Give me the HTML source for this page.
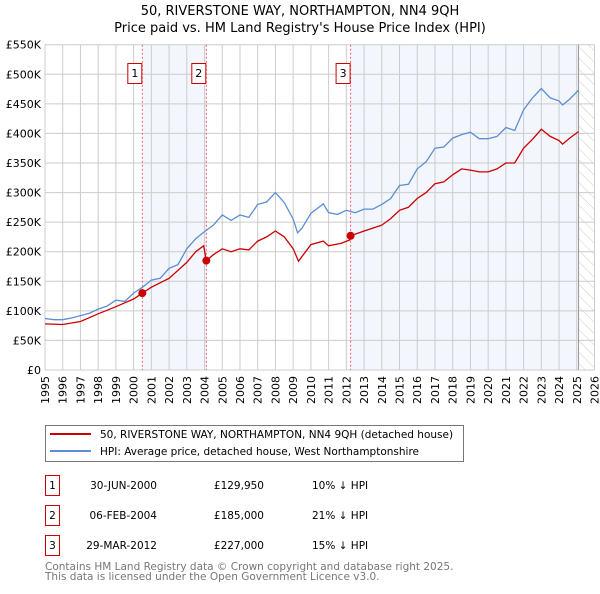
<!DOCTYPE html>
<html><head><meta charset="utf-8"><style>
body{margin:0;background:#fff;font-family:"DejaVu Sans","Liberation Sans",sans-serif}
svg text{font-family:"DejaVu Sans","Liberation Sans",sans-serif}
</style></head><body>
<svg width="600" height="590" viewBox="0 0 600 590">
<defs><pattern id="hatch" width="8" height="8" patternUnits="userSpaceOnUse" patternTransform="rotate(-45)"><line x1="0" y1="0" x2="0" y2="8" stroke="#ccc" stroke-width="1"/></pattern></defs>
<text x="300" y="15" font-size="13" text-anchor="middle">50, RIVERSTONE WAY, NORTHAMPTON, NN4 9QH</text>
<text x="300" y="32" font-size="13" text-anchor="middle">Price paid vs. HM Land Registry's House Price Index (HPI)</text>
<g id="plot"></g>
<g>
<rect x="45.5" y="425.5" width="418" height="36" fill="#fff" stroke="#777"/>
<line x1="50" y1="434" x2="91" y2="434" stroke="#cc0000" stroke-width="2"/>
<text x="100" y="438" font-size="10.5">50, RIVERSTONE WAY, NORTHAMPTON, NN4 9QH (detached house)</text>
<line x1="50" y1="451" x2="91" y2="451" stroke="#5b8fd1" stroke-width="2"/>
<text x="100" y="455" font-size="10.5">HPI: Average price, detached house, West Northamptonshire</text>
</g>
<g font-size="10.5">
<rect x="45.5" y="475.5" width="14" height="20" fill="#fff" stroke="#cc0000"/><text x="52.5" y="489" text-anchor="middle">1</text>
<text x="157" y="489" text-anchor="end">30-JUN-2000</text><text x="264" y="489" text-anchor="end">£129,950</text><text x="312" y="489">10% ↓ HPI</text>
<rect x="45.5" y="505.5" width="14" height="20" fill="#fff" stroke="#cc0000"/><text x="52.5" y="519" text-anchor="middle">2</text>
<text x="157" y="519" text-anchor="end">06-FEB-2004</text><text x="264" y="519" text-anchor="end">£185,000</text><text x="312" y="519">21% ↓ HPI</text>
<rect x="45.5" y="535.5" width="14" height="20" fill="#fff" stroke="#cc0000"/><text x="52.5" y="549" text-anchor="middle">3</text>
<text x="157" y="549" text-anchor="end">29-MAR-2012</text><text x="264" y="549" text-anchor="end">£227,000</text><text x="312" y="549">15% ↓ HPI</text>
</g>
<text x="45" y="570" font-size="10.5" fill="#777">Contains HM Land Registry data © Crown copyright and database right 2025.</text>
<text x="45" y="580" font-size="10.5" fill="#777">This data is licensed under the Open Government Licence v3.0.</text>
</svg>
<script>
const hpiYears=[1995,1995.5,1996,1996.5,1997,1997.5,1998,1998.5,1999,1999.5,2000,2000.5,2001,2001.5,2002,2002.5,2003,2003.5,2004,2004.5,2005,2005.5,2006,2006.5,2007,2007.5,2008,2008.5,2009,2009.25,2009.5,2010,2010.7,2011,2011.5,2012,2012.5,2013,2013.5,2014,2014.5,2015,2015.5,2016,2016.5,2017,2017.5,2018,2018.5,2019,2019.5,2020,2020.5,2021,2021.5,2022,2022.5,2023,2023.5,2024,2024.2,2024.6,2025.1];
const hpiValues=[87,85,85,88,92,96,103,108,118,116,130,140,152,155,172,178,205,222,234,245,262,253,262,258,280,284,300,283,255,232,240,265,281,266,263,270,266,272,272,280,290,312,314,340,352,375,377,392,398,402,391,391,395,410,405,440,460,476,460,455,448,458,473];
const redYears=[1995,1996,1997,1998,1999,2000,2000.5,2001,2002,2003,2003.5,2003.95,2004.1,2004.5,2005,2005.5,2006,2006.5,2007,2007.5,2008,2008.5,2009,2009.3,2009.7,2010,2010.7,2011,2011.7,2012.2,2012.25,2013,2013.5,2014,2014.5,2015,2015.5,2016,2016.5,2017,2017.5,2018,2018.5,2019,2019.5,2020,2020.5,2021,2021.5,2022,2022.5,2023,2023.5,2024,2024.2,2024.6,2025.1];
const redValues=[78,77,82,95,107,120,130,140,155,182,200,210,185,195,205,200,205,203,218,225,235,225,205,184,200,212,218,210,214,220,227,235,240,245,256,270,275,290,300,315,318,330,340,338,335,335,340,350,350,375,390,407,395,388,382,392,403];
const saleYears=[2000.49,2004.1,2012.24];
const saleValues=[129.95,185,227];
const saleLabels=["1","2","3"];
const yTicks=[0,50,100,150,200,250,300,350,400,450,500,550];
const yTickLabels=["£0","£50K","£100K","£150K","£200K","£250K","£300K","£350K","£400K","£450K","£500K","£550K"];
const x0=45,x1=594.5,y0=370,y1=44.7;
const X=t=>x0+(t-1995)/31*(x1-x0);
const Y=v=>y0-v/550*(y0-y1);
const g=document.getElementById('plot');
const NS='http://www.w3.org/2000/svg';
function mk(tag,a){const e=document.createElementNS(NS,tag);for(const k in a)e.setAttribute(k,a[k]);g.appendChild(e);return e;}
let e;
e=mk('rect',{x:x0,y:y1,width:x1-x0,height:y0-y1,fill:'#fff'});


e=mk('rect',{x:X(saleYears[0]),y:y1,width:X(saleYears[1])-X(saleYears[0]),height:y0-y1,fill:'#f3f6fd'});


e=mk('rect',{x:X(saleYears[2]),y:y1,width:X(2025.1)-X(saleYears[2]),height:y0-y1,fill:'#f3f6fd'});


e=mk('rect',{x:X(2025.1),y:y1,width:x1-X(2025.1),height:y0-y1,fill:'url(#hatch)'});


for(let yr=1995;yr<=2026;yr++){
 e=mk('line',{x1:X(yr),x2:X(yr),y1:y1,y2:y0,stroke:'#ccc','stroke-width':1});
 
 
 e=mk('text',{x:0,y:0,'font-size':11,'text-anchor':'end',transform:`translate(${X(yr)+4},${y0+6}) rotate(-90)`});
 e.textContent=yr;
 
 
}
yTicks.forEach((v,i)=>{
 e=mk('line',{x1:x0,x2:x1,y1:Y(v),y2:Y(v),stroke:'#ccc','stroke-width':1});
 
 
 e=mk('text',{x:x0-4,y:Y(v)+4,'font-size':11,'text-anchor':'end'});
 e.textContent=yTickLabels[i];
 
 
});
e=mk('line',{x1:X(2025.1),x2:X(2025.1),y1:y1,y2:y0,stroke:'#999','stroke-width':1});


saleYears.forEach((t,i)=>{
 e=mk('line',{x1:X(t),x2:X(t),y1:y1,y2:y0,stroke:'#f06070','stroke-width':1,'stroke-dasharray':'2,2'});
 
 
 e=mk('rect',{x:X(t)-14.5,y:63.5,width:14,height:20,fill:'#fff',stroke:'#cc0000'});
 
 
 e=mk('text',{x:X(t)-7.5,y:77,'font-size':11,'text-anchor':'middle'});
 e.textContent=saleLabels[i];
 
 
});
e=mk('path',{d:hpiYears.map((t,i)=>(i?'L':'M')+X(t).toFixed(1)+','+Y(hpiValues[i]).toFixed(1)).join(''),fill:'none',stroke:'#5b8fd1','stroke-width':1.3});


e=mk('path',{d:redYears.map((t,i)=>(i?'L':'M')+X(t).toFixed(1)+','+Y(redValues[i]).toFixed(1)).join(''),fill:'none',stroke:'#cc0000','stroke-width':1.3});


saleYears.forEach((t,i)=>{
 e=mk('circle',{cx:X(t),cy:Y(saleValues[i]),r:4,fill:'#cc0000'});
 
 
});
</script>
</body></html>
